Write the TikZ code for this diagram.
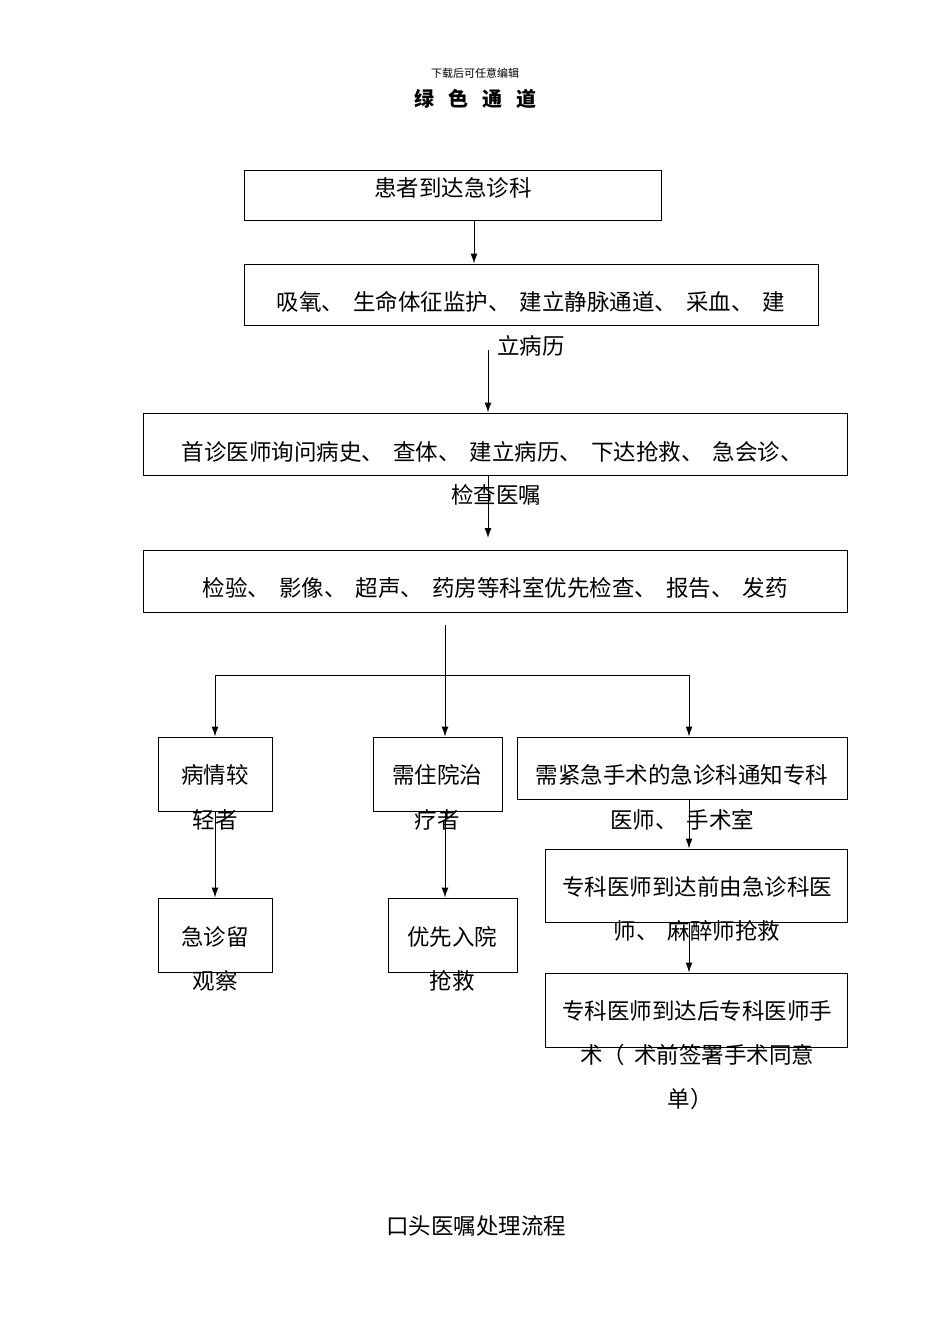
\documentclass[tikz,border=0pt]{standalone}
\usepackage{fontspec}
\setmainfont{Noto Sans CJK SC}
\usetikzlibrary{arrows.meta}
\newcommand{\gp}{\hspace{9pt}}
\begin{document}
\begin{tikzpicture}[x=1pt,y=-1pt,
  box/.style={draw,line width=1pt,inner sep=0pt},
  txt/.style={inner sep=0pt,anchor=center,font=\fontsize{22.5}{26}\selectfont},
  arr/.style={line width=1pt,-{Latex[length=10pt,width=7pt]}}]
\useasboundingbox (0,0) rectangle (950,1344);
\node[inner sep=0pt,font=\fontsize{11}{13}\selectfont] (t0) at (475,73) {下载后可任意编辑};
\node[inner sep=0pt,font=\fontsize{20}{24}\selectfont\bfseries] (t1) at (475,99) {绿\hspace{14pt}色\hspace{14pt}通\hspace{14pt}道};
% boxes
\node[box,minimum width=417pt,minimum height=50pt] (b1) at (452.5,195) {};
\node[box,minimum width=574pt,minimum height=61pt] (b2) at (531,294.5) {};
\node[box,minimum width=704pt,minimum height=62pt] (b3) at (495,444) {};
\node[box,minimum width=704pt,minimum height=62pt] (b4) at (495,581) {};
\node[box,minimum width=114pt,minimum height=74pt] (ba) at (215,774) {};
\node[box,minimum width=129pt,minimum height=74pt] (bb) at (437.5,774) {};
\node[box,minimum width=330pt,minimum height=62pt] (bc) at (682,768) {};
\node[box,minimum width=114pt,minimum height=74pt] (bd) at (215,935) {};
\node[box,minimum width=129pt,minimum height=74pt] (be) at (452.5,935) {};
\node[box,minimum width=302pt,minimum height=73pt] (bf) at (696,885.5) {};
\node[box,minimum width=302pt,minimum height=74pt] (bg) at (696,1010) {};
% texts
\node[txt] (x1) at (453,188) {患者到达急诊科};
\node[txt] (x2a) at (531,302) {吸氧、\gp 生命体征监护、\gp 建立静脉通道、\gp 采血、\gp 建};
\node[txt] (x2b) at (531,346) {立病历};
\node[txt] (x3a) at (492,452) {首诊医师询问病史、\gp 查体、\gp 建立病历、\gp 下达抢救、\gp 急会诊、};
\node[txt] (x3b) at (496,495) {检查医嘱};
\node[txt] (x4) at (495,588) {检验、\gp 影像、\gp 超声、\gp 药房等科室优先检查、\gp 报告、\gp 发药};
\node[txt] (xa1) at (215,775) {病情较};
\node[txt] (xa2) at (215,820) {轻者};
\node[txt] (xb1) at (437,775) {需住院治};
\node[txt] (xb2) at (437,820) {疗者};
\node[txt] (xc1) at (682,775) {需紧急手术的急诊科通知专科};
\node[txt] (xc2) at (682,820) {医师、\gp 手术室};
\node[txt] (xd1) at (215,937) {急诊留};
\node[txt] (xd2) at (215,981) {观察};
\node[txt] (xe1) at (452,937) {优先入院};
\node[txt] (xe2) at (452,981) {抢救};
\node[txt] (xf1) at (697,887) {专科医师到达前由急诊科医};
\node[txt] (xf2) at (697,931) {师、\gp 麻醉师抢救};
\node[txt] (xg1) at (697,1011) {专科医师到达后专科医师手};
\node[txt] (xg2) at (697,1055) {术（\gp 术前签署手术同意};
\node[txt] (xg3) at (690,1099) {单）};
\node[txt] (xz) at (476,1226) {口头医嘱处理流程};
% connectors
\coordinate (s4) at (445,625);
\coordinate (j) at (445,675);
\draw[arr] (b1.south -| 474,0) -- (b2.north -| 474,0);
\draw[arr] (488,350) -- (b3.north -| 488,0);
\draw[arr] (b3.south -| 488,0) -- (488,538);
\draw[line width=1pt] (s4) -- (j);
\draw[line width=1pt] (215,675) -- (689,675);
\draw[arr] (215,675) -- (ba.north);
\draw[arr] (j) -- (bb.north -| j);
\draw[arr] (689,675) -- (bc.north -| 689,0);
\draw[arr] (ba.south) -- (bd.north);
\draw[arr] (bb.south -| 445,0) -- (be.north -| 445,0);
\draw[arr] (bc.south -| 689,0) -- (bf.north -| 689,0);
\draw[arr] (bf.south -| 689,0) -- (bg.north -| 689,0);
\end{tikzpicture}
\end{document}
